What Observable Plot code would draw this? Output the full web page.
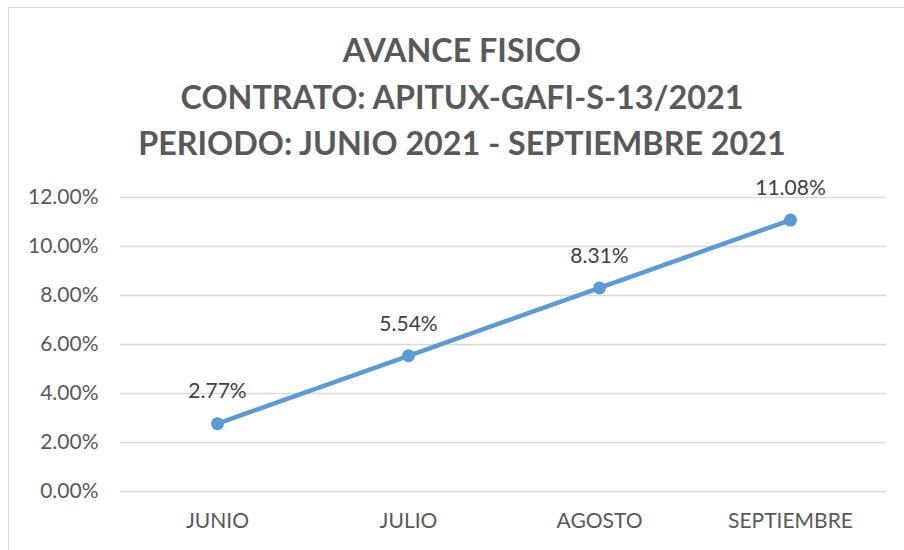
<!DOCTYPE html>
<html>
<head>
<meta charset="utf-8">
<script src="https://cdn.jsdelivr.net/npm/d3@7"></script>
<script src="https://cdn.jsdelivr.net/npm/@observablehq/plot@0.6"></script>
<style>
  html, body { margin: 0; padding: 0; background: #fff; }
  #wrap { position: relative; width: 904px; height: 550px; overflow: hidden; }
  #frame { position: absolute; left: 8px; top: 7px; width: 910px; height: 560px; border: 1.5px solid #D9D9D9; box-sizing: border-box; }
  #title { position: absolute; left: 0; top: 0; width: 924px; height: 160px; text-align: center;
    font-family: Lato, "Open Sans", sans-serif; font-weight: bold; font-size: 32.3px; color: #595959; line-height: 46.5px; padding-top: 27px; box-sizing: border-box; }
  #chart { position: absolute; left: 0; top: 160px; }
</style>
</head>
<body>
<div id="wrap">
  <div id="frame"></div>
  <div id="title">AVANCE FISICO<br>CONTRATO: APITUX-GAFI-S-13/2021<br>PERIODO: JUNIO 2021 - SEPTIEMBRE 2021</div>
  <div id="chart"></div>
</div>
<script>
const months = ["JUNIO", "JULIO", "AGOSTO", "SEPTIEMBRE"];
const avance = [0.0277, 0.0554, 0.0831, 0.1108];
const yTicks = [0, 0.02, 0.04, 0.06, 0.08, 0.10, 0.12];

const data = months.map((m, i) => ({month: m, value: avance[i]}));
const fmt = d3.format(".2%");

const chart = Plot.plot({
  width: 904,
  height: 390,
  marginTop: 37,
  marginBottom: 59,
  marginLeft: 120,
  marginRight: 18,
  style: {fontFamily: "Lato, 'Open Sans', sans-serif", fontSize: "21px", color: "#595959", background: "transparent"},
  x: {type: "point", domain: months, padding: 0.5, label: null, tickSize: 0, tickPadding: 22},
  y: {domain: [0, 0.12], ticks: yTicks, tickFormat: fmt, label: null, tickSize: 0, tickPadding: 22},
  marks: [
    Plot.gridY(yTicks, {stroke: "#D9D9D9", strokeOpacity: 1, strokeWidth: 1.5}),
    Plot.line(data, {x: "month", y: "value", stroke: "#5B9BD5", strokeWidth: 4.5}),
    Plot.dot(data, {x: "month", y: "value", r: 6.5, fill: "#5B9BD5", stroke: null}),
    Plot.text(data, {x: "month", y: "value", text: d => fmt(d.value), dy: -32, fill: "#404040", fontSize: 21})
  ]
});
document.getElementById("chart").appendChild(chart);
</script>
</body>
</html>
